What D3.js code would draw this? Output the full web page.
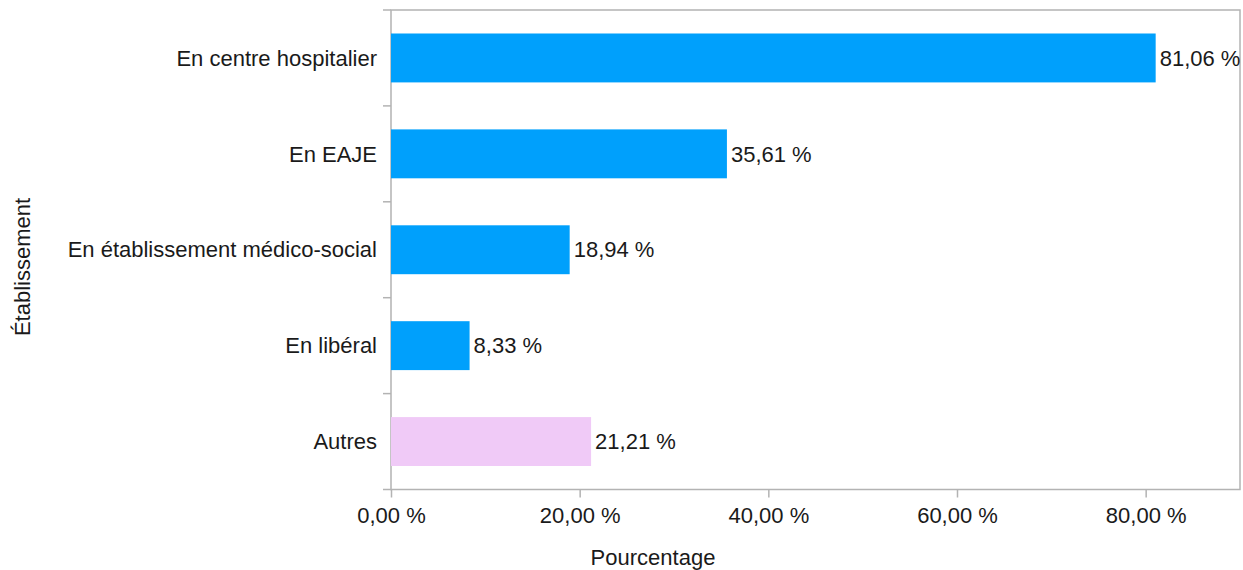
<!DOCTYPE html>
<html><head><meta charset="utf-8">
<script src="https://cdn.jsdelivr.net/npm/d3@7"></script>
<style>body{margin:0;background:#fff}svg{display:block}text{font-family:"Liberation Sans",Arial,sans-serif;fill:#1a1a1a}</style>
</head><body><svg id="c" width="1243" height="570"></svg>
<script>
const categories = ["En centre hospitalier","En EAJE","En établissement médico-social","En libéral","Autres"];
const values = [81.06, 35.61, 18.94, 8.33, 21.21];
const barColors = ["#00a0fc","#00a0fc","#00a0fc","#00a0fc","#f0caf7"];
const xTicks = [0,20,40,60,80];
const xTitle = "Pourcentage";
const yTitle = "Établissement";

const svg = d3.select("#c");
const L = 391, R = 1240, T = 10, B = 489.5;
const fmt = v => d3.format(".2f")(v).replace(".", ",") + " %";
const x = d3.scaleLinear().domain([0,90]).range([L,R]);
const y = d3.scaleBand().domain(categories).range([T,B]).paddingInner(0.49).paddingOuter(0.245);
const axisCol = "#b3b3b3";
const fs = 22;

// frame
svg.append("rect").attr("x",L).attr("y",T).attr("width",R-L).attr("height",B-T)
  .attr("fill","none").attr("stroke",axisCol).attr("stroke-width",1.5);

// bars
svg.selectAll("rect.bar").data(categories).join("rect").attr("class","bar")
  .attr("x",x(0)).attr("y",d=>y(d)).attr("height",y.bandwidth())
  .attr("width",(d,i)=>x(values[i])-x(0)).attr("fill",(d,i)=>barColors[i]);

// value labels
svg.selectAll("text.val").data(categories).join("text").attr("class","val")
  .attr("x",(d,i)=>x(values[i])+4).attr("y",d=>y(d)+y.bandwidth()/2)
  .attr("dy","0.35em").attr("font-size",fs).text((d,i)=>fmt(values[i]));

// x axis
const xa = svg.append("g").attr("transform",`translate(0,${B})`)
  .call(d3.axisBottom(x).tickValues(xTicks).tickSize(8).tickPadding(10).tickFormat(fmt));
xa.select(".domain").remove();
xa.selectAll("line").attr("stroke",axisCol).attr("stroke-width",1.5);
xa.selectAll("text").attr("font-size",fs).attr("fill","#1a1a1a").style("font-family",'"Liberation Sans",Arial,sans-serif');

// y axis: ticks at band boundaries
const bounds = categories.map(c=>y(c)-y.step()*y.paddingInner()/2).concat([B]);
bounds[0] = T;
svg.selectAll("line.yt").data(bounds).join("line").attr("class","yt")
  .attr("x1",L-8).attr("x2",L).attr("y1",d=>d).attr("y2",d=>d)
  .attr("stroke",axisCol).attr("stroke-width",1.5);
svg.selectAll("text.cat").data(categories).join("text").attr("class","cat")
  .attr("x",L-14).attr("y",d=>y(d)+y.bandwidth()/2).attr("dy","0.35em")
  .attr("text-anchor","end").attr("font-size",fs).text(d=>d);

// titles
svg.append("text").attr("x",653).attr("y",565).attr("text-anchor","middle").attr("font-size",fs).text(xTitle);
svg.append("text").attr("transform","translate(30,267) rotate(-90)").attr("text-anchor","middle").attr("font-size",fs).text(yTitle);
</script></body></html>
